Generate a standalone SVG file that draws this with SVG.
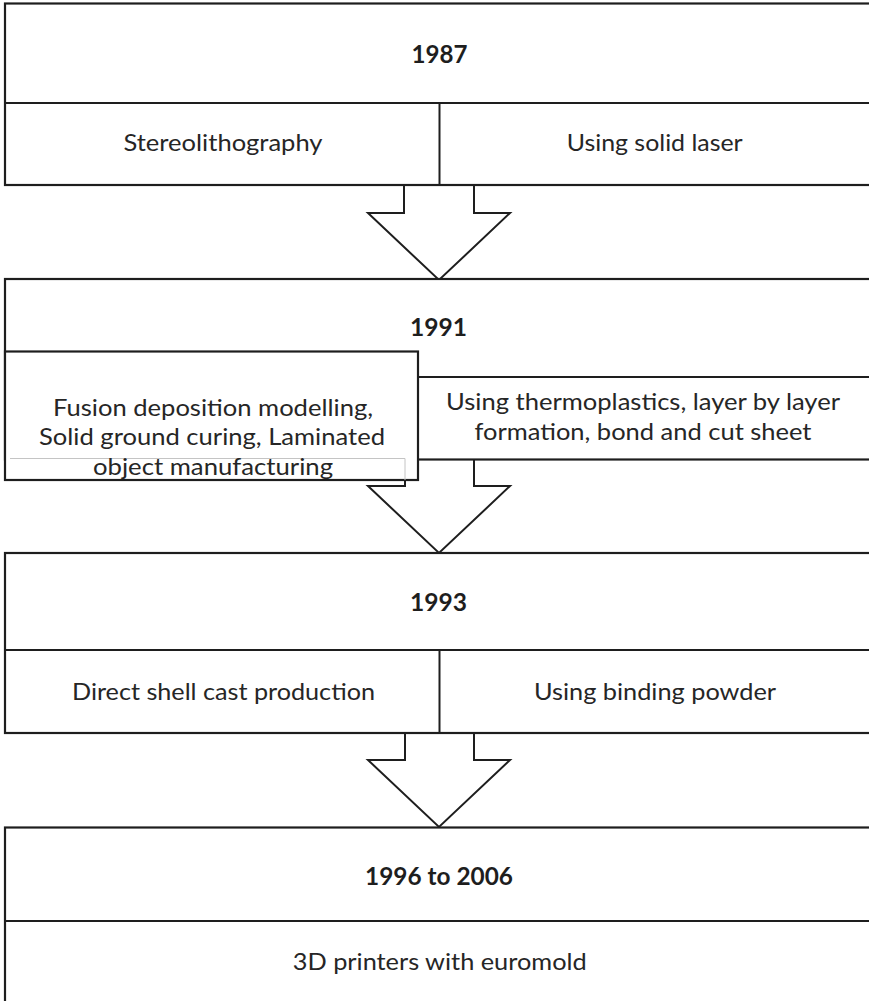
<svg xmlns="http://www.w3.org/2000/svg" width="869" height="1001" viewBox="0 0 869 1001">
  <style>
    .box { fill: #ffffff; stroke: #1e1e1e; stroke-width: 2.2; }
    .div { fill: none; stroke: #1e1e1e; stroke-width: 2; }
    .faint { fill: none; stroke: #c4c4c4; stroke-width: 1; }
    .arrow { fill: #ffffff; stroke: #1e1e1e; stroke-width: 2; stroke-linejoin: miter; }
    .year { font-family: Lato, "Open Sans", sans-serif; font-weight: bold; font-size: 24px; fill: #1e1e1e; text-anchor: middle; }
    .label { font-family: Lato, "Open Sans", sans-serif; font-size: 24px; fill: #262626; text-anchor: middle; }
  </style>
  <rect width="869" height="1001" fill="#ffffff"/>

  <!-- block arrows between the stages -->
  <g id="connectors">
    <polyline class="arrow" points="404,185 404,213 368,213 439,280 510,213 474,213 474,185"/>
    <polyline class="arrow" points="405,459.5 405,486 368,486 439,553 510,486 474,486 474,459.5"/>
    <polyline class="arrow" points="405,733 405,760 368,760 439,827 510,760 474,760 474,733"/>
  </g>

  <g id="stage-1987">
    <rect class="box" x="5" y="3.5" width="880" height="181.5"/>
    <line class="div" x1="5" y1="103" x2="885" y2="103"/>
    <line class="div" x1="439.5" y1="103" x2="439.5" y2="185"/>
    <text class="year" x="439.5" y="63" textLength="56" lengthAdjust="spacingAndGlyphs">1987</text>
    <text class="label" x="223" y="151" textLength="199" lengthAdjust="spacingAndGlyphs">Stereolithography</text>
    <text class="label" x="654.7" y="151" textLength="176" lengthAdjust="spacingAndGlyphs">Using solid laser</text>
  </g>

  <g id="stage-1991">
    <rect class="box" x="5" y="279" width="880" height="180.5"/>
    <line class="div" x1="418" y1="377" x2="885" y2="377"/>
    <text class="year" x="438.5" y="336" textLength="57" lengthAdjust="spacingAndGlyphs">1991</text>
    <text class="label" x="643" y="410" textLength="394" lengthAdjust="spacingAndGlyphs">Using thermoplastics, layer by layer</text>
    <text class="label" x="643" y="439.5" textLength="337" lengthAdjust="spacingAndGlyphs">formation, bond and cut sheet</text>
  </g>

  <g id="stage-1991-methods">
    <rect class="box" x="5" y="351.5" width="413" height="128.5"/>
    <polyline class="faint" points="10,458.5 405,458.5 405,480"/>
    <text class="label" x="213" y="416" textLength="320" lengthAdjust="spacingAndGlyphs">Fusion deposition modelling,</text>
    <text class="label" x="212" y="445" textLength="346" lengthAdjust="spacingAndGlyphs">Solid ground curing, Laminated</text>
    <text class="label" x="213" y="475" textLength="240" lengthAdjust="spacingAndGlyphs">object manufacturing</text>
  </g>

  <g id="stage-1993">
    <rect class="box" x="5" y="553" width="880" height="180"/>
    <line class="div" x1="5" y1="650" x2="885" y2="650"/>
    <line class="div" x1="439.5" y1="650" x2="439.5" y2="733"/>
    <text class="year" x="438.5" y="611" textLength="57" lengthAdjust="spacingAndGlyphs">1993</text>
    <text class="label" x="223.5" y="700" textLength="303" lengthAdjust="spacingAndGlyphs">Direct shell cast production</text>
    <text class="label" x="655" y="700" textLength="242" lengthAdjust="spacingAndGlyphs">Using binding powder</text>
  </g>

  <g id="stage-1996-2006">
    <rect class="box" x="5" y="827.5" width="880" height="200"/>
    <line class="div" x1="5" y1="921" x2="885" y2="921"/>
    <text class="year" x="439" y="884.5" textLength="148" lengthAdjust="spacingAndGlyphs">1996 to 2006</text>
    <text class="label" x="439.7" y="969.5" textLength="294" lengthAdjust="spacingAndGlyphs">3D printers with euromold</text>
  </g>
</svg>
